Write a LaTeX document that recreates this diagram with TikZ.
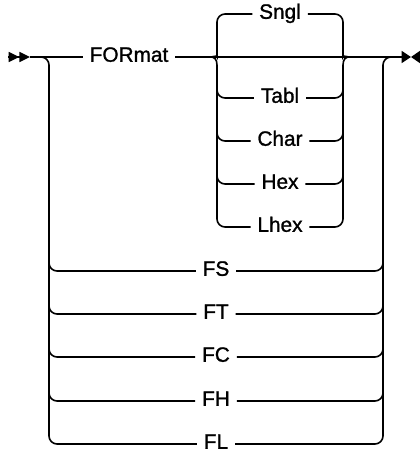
\documentclass[tikz,border=0pt]{standalone}
\usepackage{fontspec}
\setmainfont{Liberation Sans}[FakeBold=1.2]
\usetikzlibrary{arrows.meta}
\usetikzlibrary{calc}
\tikzset{
  track/.style={line width=1.2pt},
  rail/.style={line width=1.2pt, rounded corners=6pt},
  kw/.style={inner xsep=5pt, inner ysep=0pt, text height=0.716em, text depth=0pt, font=\fontsize{15.6}{18}\selectfont},
}

\begin{document}
\begin{tikzpicture}[x=0.75pt, y=-0.75pt]
\useasboundingbox (0,0) rectangle (420,453);
\coordinate (start) at (8,57);
\coordinate (head) at (30,57);
\coordinate (split) at (40,57);
\coordinate (Lx) at (49,0);
\coordinate (Lbot) at (49,444);
\coordinate (gL) at (211,57);
\coordinate (gLx) at (217,0);
\coordinate (gR) at (349,57);
\coordinate (gRx) at (343,0);
\coordinate (Rx) at (383,0);
\coordinate (Rtop) at (383,57);
\coordinate (join) at (392,57);
\coordinate (stop) at (411,57);
\coordinate (back) at (420,57);
\node[kw] (FORmat) at (129,57) {FORmat};
\node[kw] (Sngl) at (280,14) {Sngl};
\foreach \n/\y in {Tabl/98, Char/141, Hex/184, Lhex/227}
  \node[kw] (\n) at (280,\y) {\n};
\foreach \n/\y in {FS/271, FT/314, FC/357, FH/401, FL/444}
  \node[kw] (\n) at (216,\y) {\n};
\draw[track, -{Triangle[length=8pt, width=7.5pt]Triangle[length=8pt, width=7.5pt]}] (start) -- (head);
\draw[track] (head) -- (FORmat.west);
\draw[track] (FORmat.east) -- (gL) -- (gR) -- (join);
\draw[track, -{Triangle[length=7pt, width=9pt]}] (join) -- (stop);
\draw[track, -{Triangle[length=6.75pt, width=9pt]}] (back) -- (stop);
\draw[rail] (split) -| (Lbot) -- (FL.west);
\draw[rail] (FL.east) -| (Rtop) -- (join);
\foreach \n in {FS, FT, FC, FH} {
  \draw[rail] ($(Lx |- \n.west)+(0,-20)$) |- (\n.west);
  \draw[rail] (\n.east) -| ($(Rx |- \n.east)+(0,-20)$);
}
\draw[track] (Sngl.west) [rounded corners=6pt] -| (217,49) [sharp corners] .. controls (217,55) and (214,57) .. (gL);
\draw[track] (gL) .. controls (214,57) and (217,59) .. (217,65) [rounded corners=6pt] |- (Lhex.west);
\draw[track] (Sngl.east) [rounded corners=6pt] -| (343,49) [sharp corners] .. controls (343,55) and (346,57) .. (gR);
\draw[track] (gR) .. controls (346,57) and (343,59) .. (343,65) [rounded corners=6pt] |- (Lhex.east);
\foreach \n in {Tabl, Char, Hex} {
  \draw[rail] ($(gLx |- \n.west)+(0,-20)$) |- (\n.west);
  \draw[rail] (\n.east) -| ($(gRx |- \n.east)+(0,-20)$);
}
\end{tikzpicture}
\end{document}
